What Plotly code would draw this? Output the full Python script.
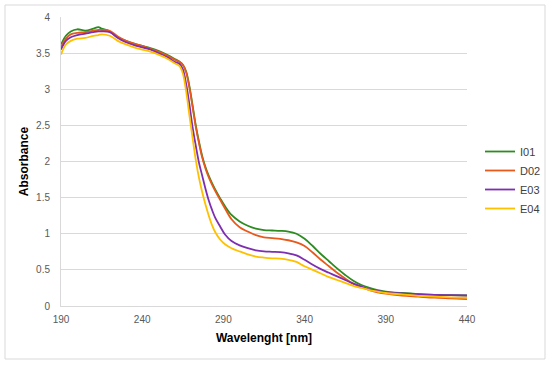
import plotly.graph_objects as go

wavelength = [190, 193, 196, 200, 205, 210, 213, 215, 220, 225, 230, 235, 240, 245, 250, 255, 260, 263, 265,
              267, 269, 271, 273, 275, 277, 279, 281, 283, 285, 288, 291, 295, 300, 305, 310, 315, 320,
              325, 330, 335, 340, 345, 350, 355, 360, 365, 370, 375, 380, 385, 390, 400, 410, 420, 430, 440]

i01 = [3.62, 3.74, 3.80, 3.83, 3.81, 3.84, 3.86, 3.84, 3.80, 3.72, 3.67, 3.63, 3.60, 3.57, 3.53, 3.48, 3.42, 3.38, 3.34,
       3.25, 3.05, 2.78, 2.50, 2.27, 2.07, 1.92, 1.80, 1.70, 1.61, 1.49, 1.38, 1.26, 1.17, 1.11, 1.07, 1.05, 1.045,
       1.04, 1.03, 1.00, 0.93, 0.83, 0.72, 0.62, 0.52, 0.43, 0.35, 0.29, 0.25, 0.22, 0.20, 0.18, 0.165, 0.155, 0.15, 0.145]

d02 = [3.58, 3.70, 3.76, 3.78, 3.79, 3.81, 3.82, 3.82, 3.81, 3.73, 3.67, 3.63, 3.60, 3.56, 3.52, 3.47, 3.41, 3.38, 3.34,
       3.24, 3.03, 2.76, 2.48, 2.25, 2.05, 1.90, 1.78, 1.68, 1.59, 1.47, 1.35, 1.20, 1.09, 1.03, 0.98, 0.95, 0.94,
       0.93, 0.91, 0.88, 0.83, 0.74, 0.64, 0.55, 0.46, 0.38, 0.31, 0.26, 0.22, 0.19, 0.17, 0.145, 0.13, 0.115, 0.105, 0.095]

e03 = [3.55, 3.67, 3.72, 3.75, 3.77, 3.79, 3.80, 3.80, 3.79, 3.71, 3.65, 3.61, 3.58, 3.55, 3.50, 3.45, 3.38, 3.35, 3.28,
       3.08, 2.80, 2.48, 2.22, 1.98, 1.80, 1.62, 1.46, 1.33, 1.22, 1.10, 0.99, 0.90, 0.84, 0.80, 0.77, 0.755, 0.75,
       0.745, 0.73, 0.70, 0.64, 0.57, 0.51, 0.46, 0.41, 0.36, 0.31, 0.27, 0.23, 0.21, 0.19, 0.175, 0.165, 0.155, 0.15, 0.145]

e04 = [3.48, 3.62, 3.67, 3.70, 3.71, 3.74, 3.75, 3.76, 3.74, 3.67, 3.62, 3.58, 3.55, 3.52, 3.48, 3.43, 3.36, 3.32, 3.22,
       2.98, 2.65, 2.33, 2.02, 1.77, 1.57, 1.40, 1.25, 1.12, 1.02, 0.92, 0.855, 0.80, 0.755, 0.715, 0.685, 0.67, 0.66,
       0.655, 0.64, 0.61, 0.55, 0.50, 0.45, 0.40, 0.36, 0.32, 0.28, 0.25, 0.22, 0.20, 0.18, 0.16, 0.14, 0.13, 0.12, 0.115]

series_names = ["I01", "D02", "E03", "E04"]
series_values = [i01, d02, e03, e04]
colors = ["#2E8B22", "#E8591C", "#7E2FB0", "#FFC000"]

x_ticks = [190, 240, 290, 340, 390, 440]
y_ticks = [0, 0.5, 1, 1.5, 2, 2.5, 3, 3.5, 4]

fig = go.Figure()
for name, vals, col in zip(series_names, series_values, colors):
    fig.add_trace(go.Scatter(x=wavelength, y=vals, mode="lines", name=name,
                             line=dict(color=col, width=1.8), line_shape="spline"))

W, H = 550, 367
L, R, T, B = 61, 83, 17, 61
pw, ph = W - L - R, H - T - B

def px_x(p):
    return (p - L) / pw

def px_y(p):
    return (H - B - p) / ph

fig.update_layout(
    width=W, height=H,
    margin=dict(l=L, r=R, t=T, b=B, autoexpand=False),
    paper_bgcolor="white", plot_bgcolor="white",
    font=dict(family="Liberation Sans, Arial, sans-serif", size=10, color="#595959"),
    showlegend=True,
    legend=dict(x=px_x(480), y=px_y(137), xanchor="left", yanchor="top",
                font=dict(size=11, color="#404040"), bgcolor="rgba(0,0,0,0)",
                tracegroupgap=0),
    shapes=[dict(type="rect", xref="paper", yref="paper",
                 x0=px_x(5), x1=px_x(545), y0=px_y(359), y1=px_y(5),
                 line=dict(color="#D9D9D9", width=1), layer="below")],
)

fig.update_xaxes(range=[190, 440], tickvals=x_ticks, ticktext=[str(v) for v in x_ticks],
                 showgrid=False, showline=True, linecolor="#D9D9D9", linewidth=1,
                 ticks="", zeroline=False, ticklabelstandoff=4,
                 title=dict(text="<b>Wavelenght [nm]</b>", font=dict(size=12, color="#000000"), standoff=9))
fig.update_yaxes(range=[0, 4], tickvals=y_ticks, ticktext=[f"{v:g}" for v in y_ticks],
                 showgrid=True, gridcolor="#D9D9D9", gridwidth=1,
                 showline=True, linecolor="#D9D9D9", linewidth=1,
                 ticks="", zeroline=False, ticklabelstandoff=8,
                 title=dict(text="<b>Absorbance</b>", font=dict(size=12, color="#000000"), standoff=4))

fig.write_html("out.html", config={"displayModeBar": False},
               post_script="document.body.style.margin='0';document.body.style.overflow='hidden';")
